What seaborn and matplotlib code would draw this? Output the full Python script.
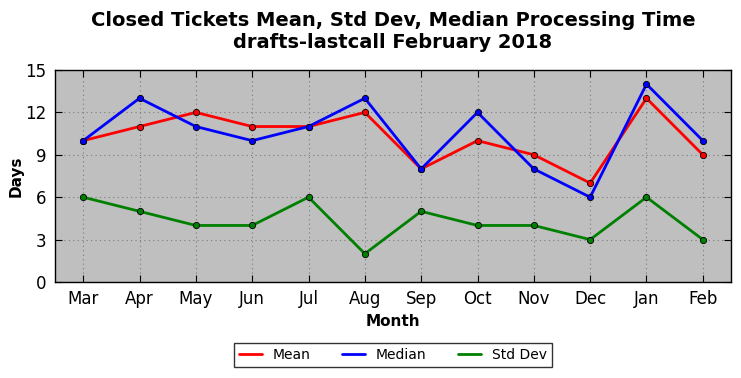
import matplotlib

matplotlib.use("Agg")
import matplotlib.pyplot as plt
from matplotlib.lines import Line2D
import pandas as pd
import seaborn as sns

# data
months = ["Mar", "Apr", "May", "Jun", "Jul", "Aug", "Sep", "Oct", "Nov", "Dec", "Jan", "Feb"]
mean_days = [10, 11, 12, 11, 11, 12, 8, 10, 9, 7, 13, 9]
median_days = [10, 13, 11, 10, 11, 13, 8, 12, 8, 6, 14, 10]
std_days = [6, 5, 4, 4, 6, 2, 5, 4, 4, 3, 6, 3]

series = {"Mean": (mean_days, "red"), "Median": (median_days, "blue"), "Std Dev": (std_days, "green")}

sns.set_style("ticks")
plt.rcParams["font.family"] = ["DejaVu Sans"]
plt.rcParams["text.color"] = "black"
plt.rcParams["axes.labelcolor"] = "black"
plt.rcParams["xtick.color"] = "black"
plt.rcParams["ytick.color"] = "black"

fig = plt.figure(figsize=(7.41, 3.78), dpi=100)
ax = fig.add_axes([55 / 741, 1 - 282 / 378, 676 / 741, 212 / 378])
ax.set_facecolor("#bfbfbf")

x = list(range(len(months)))
for name, (vals, col) in series.items():
    df = pd.DataFrame({"x": x, "y": vals})
    sns.lineplot(data=df, x="x", y="y", ax=ax, color=col, linewidth=2, marker="o",
                 markersize=4.5, markeredgecolor="black", markeredgewidth=0.6, legend=False)

ax.set_xlim(-0.5, 11.5)
ax.set_ylim(0, 15)
ax.set_xticks(x)
ax.set_xticklabels(months)
ax.set_yticks([0, 3, 6, 9, 12, 15])
ax.tick_params(direction="in", top=True, right=True, labelsize=12, length=5, pad=6)
ax.grid(True, linestyle=(0, (1, 3)), color="#7a7a7a", linewidth=0.8)
for s in ax.spines.values():
    s.set_visible(True)
    s.set_color("black")
    s.set_linewidth(1)

ax.set_xlabel("Month", fontsize=11, fontweight="bold")
ax.set_ylabel("Days", fontsize=11, fontweight="bold", labelpad=1)
ax.set_title("Closed Tickets Mean, Std Dev, Median Processing Time\ndrafts-lastcall February 2018",
             fontsize=14, fontweight="bold", pad=16)

handles = [Line2D([], [], color=col, linewidth=2) for _, col in series.values()]
leg = ax.legend(handles, list(series.keys()), loc="upper center", bbox_to_anchor=(0.5, -0.29),
                borderaxespad=0, ncol=3, fontsize=10, frameon=True, fancybox=False,
                edgecolor="black", handlelength=1.6, columnspacing=2.3, borderpad=0.35)
leg.get_frame().set_linewidth(1)

fig.savefig("out.png", dpi=100)
